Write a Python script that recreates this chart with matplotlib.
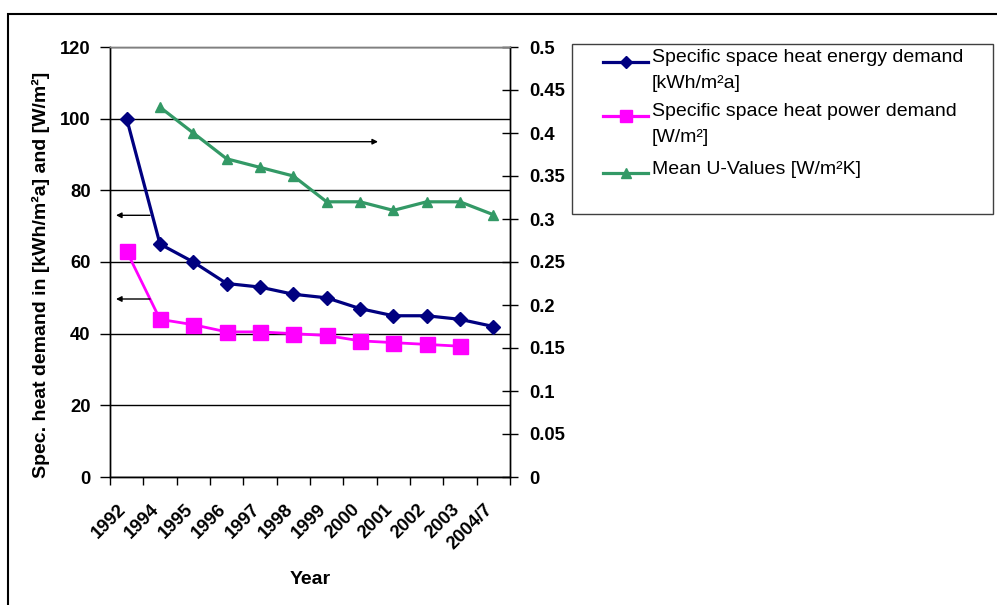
import matplotlib
matplotlib.use("Agg")
import matplotlib.pyplot as plt
from matplotlib.lines import Line2D
from matplotlib.patches import Rectangle
from matplotlib.transforms import ScaledTranslation

plt.rcParams['font.family'] = ['Liberation Sans', 'DejaVu Sans']

# ---- data -------------------------------------------------------------
years = ["1992", "1994", "1995", "1996", "1997", "1998", "1999",
         "2000", "2001", "2002", "2003", "2004/7"]
energy_demand = [100, 65, 60, 54, 53, 51, 50, 47, 45, 45, 44, 42]          # kWh/m²a
power_demand = [63, 44, 42.5, 40.5, 40.5, 40, 39.5, 38, 37.5, 37, 36.5, None]  # W/m²
u_values = [None, 0.43, 0.40, 0.37, 0.36, 0.35, 0.32, 0.32, 0.31, 0.32, 0.32, 0.305]  # W/m²K

left_ticks = [0, 20, 40, 60, 80, 100, 120]
right_ticks = [0, 0.05, 0.1, 0.15, 0.2, 0.25, 0.3, 0.35, 0.4, 0.45, 0.5]
right_tick_labels = ["0", "0.05", "0.1", "0.15", "0.2", "0.25", "0.3",
                     "0.35", "0.4", "0.45", "0.5"]

legend_lines = [["Specific space heat energy demand", "[kWh/m²a]"],
                ["Specific space heat power demand", "[W/m²]"],
                ["Mean U-Values [W/m²K]"]]

# ---- styles -----------------------------------------------------------
NAVY = "#000080"
MAGENTA = "#FF00FF"
GREEN = "#339966"
W, H = 997, 605
TICK_FS = 13.2
LABEL_FS = 14
LEGEND_FS = 14


def fx(px):
    return px / W


def fy(py):
    return 1 - py / H


fig = plt.figure(figsize=(W / 100, H / 100), dpi=100)
ax = fig.add_axes([fx(110), fy(477), fx(510) - fx(110), fy(47) - fy(477)])
ax2 = ax.twinx()

x = list(range(len(years)))


def series(vals):
    xs = [i for i, v in zip(x, vals) if v is not None]
    ys = [v for v in vals if v is not None]
    return xs, ys


ex, ey = series(energy_demand)
px_, py_ = series(power_demand)
ux, uy = series(u_values)

styles = [
    dict(color=NAVY, lw=2.3, marker="D", ms=7.4),
    dict(color=MAGENTA, lw=2.0, marker="s", ms=10.8),
    dict(color=GREEN, lw=2.3, marker="^", ms=7.8),
]

ax.plot(px_, py_, markeredgecolor=MAGENTA, zorder=3, **styles[1])
ax.plot(ex, ey, markeredgecolor=NAVY, zorder=4, **styles[0])
ax2.plot(ux, uy, markeredgecolor=GREEN, zorder=3, **styles[2])

# ---- axes -------------------------------------------------------------
ax.set_xlim(-0.5, len(years) - 0.5)
ax.set_ylim(0, 120)
ax2.set_ylim(0, 0.5)

ax.set_yticks(left_ticks)
ax.set_yticklabels([str(t) for t in left_ticks], fontsize=TICK_FS, fontweight="bold")
ax.tick_params(axis="y", direction="out", length=7, width=1, pad=7, color="black")

ax2.set_yticks(right_ticks)
ax2.set_yticklabels(right_tick_labels, fontsize=TICK_FS, fontweight="bold")
ax2.tick_params(axis="y", direction="inout", length=12, width=1, pad=8, color="black")

ax.set_xticks(x)
ax.set_xticklabels(years, rotation=45, ha="right", va="top",
                   rotation_mode="anchor", fontsize=TICK_FS, fontweight="bold")
ax.set_xticks([i - 0.5 for i in range(len(years) + 1)], minor=True)
ax.tick_params(axis="x", which="major", length=0, pad=17)
ax.tick_params(axis="x", which="minor", direction="out", length=6, width=1, color="black")
shift = ScaledTranslation(-9 / 100, 0, fig.dpi_scale_trans)
for lbl in ax.get_xticklabels():
    lbl.set_transform(lbl.get_transform() + shift)

ax.yaxis.grid(True, color="black", lw=1)
ax.set_axisbelow(True)

for a in (ax, ax2):
    a.spines["top"].set_color("#808080")
    a.spines["left"].set_color("black")
    a.spines["right"].set_color("black")
    a.spines["bottom"].set_color("black")
    for s in a.spines.values():
        s.set_linewidth(1)

ax.set_ylabel("Spec. heat demand in [kWh/m²a] and [W/m²]",
              fontsize=LABEL_FS, fontweight="bold")
ax.yaxis.set_label_coords((50 - 110) / 400, 0.47)
ax.set_xlabel("Year", fontsize=LABEL_FS, fontweight="bold")
ax.xaxis.set_label_coords(0.5, (477 - 571) / 430)

# arrows pointing to the axis each series belongs to
arrow = dict(arrowstyle="-|>", color="black", lw=1, mutation_scale=8,
             shrinkA=0, shrinkB=0)
for (x0, x1, yy) in [(208, 378, 141.7), (150, 116, 215.3), (150, 116, 299)]:
    ax.annotate("", xy=((x1 - 110) / 400, (477 - yy) / 430),
                xytext=((x0 - 110) / 400, (477 - yy) / 430),
                xycoords="axes fraction", textcoords="axes fraction",
                arrowprops=arrow)

# ---- legend -----------------------------------------------------------
fig.add_artist(Rectangle((fx(572), fy(214)), fx(993) - fx(572), fy(44) - fy(214),
                         transform=fig.transFigure, fill=False,
                         edgecolor="#404040", lw=1))
handle_y = [62, 116, 173]
text_y = [[57, 83], [112, 138], [169]]
for st, hy, lines, tys in zip(styles, handle_y, legend_lines, text_y):
    fig.add_artist(Line2D([fx(603), fx(648)], [fy(hy), fy(hy)],
                          transform=fig.transFigure, color=st["color"], lw=2.3))
    fig.add_artist(Line2D([fx(625.5)], [fy(hy)], transform=fig.transFigure,
                          color=st["color"], marker=st["marker"],
                          ms=st["ms"] * 0.85, lw=0))
    for line, ty in zip(lines, tys):
        fig.text(fx(652), fy(ty), line, fontsize=LEGEND_FS, va="center", ha="left")

# ---- outer frame (top and left edges visible) -------------------------
fig.add_artist(Rectangle((fx(8), -0.2), 1.2, fy(14) + 0.2,
                         transform=fig.transFigure, fill=False,
                         edgecolor="black", lw=1.5))

fig.savefig("out.png", dpi=100)
